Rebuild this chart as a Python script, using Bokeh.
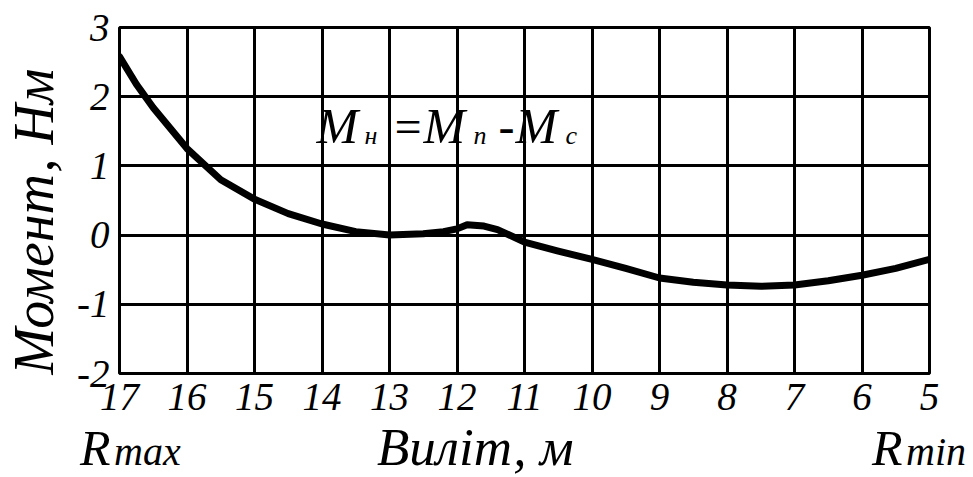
import math
from bokeh.plotting import figure
from bokeh.layouts import column
from bokeh.models import Range1d, FixedTicker, Label, Div
from bokeh.embed import file_html
from bokeh.resources import INLINE

# Data
reach_m = [17, 16.75, 16.5, 16, 15.5, 15, 14.5, 14, 13.5, 13, 12.5, 12.2, 12.0,
           11.85, 11.6, 11.4, 11, 10.5, 10, 9.5, 9, 8.5, 8, 7.5, 7, 6.5, 6, 5.5, 5]
moment_nm = [2.58, 2.18, 1.84, 1.25, 0.8, 0.52, 0.31, 0.16, 0.05, 0.0, 0.02, 0.05, 0.09,
             0.15, 0.13, 0.08, -0.1, -0.23, -0.35, -0.48, -0.62, -0.68, -0.72, -0.74,
             -0.72, -0.66, -0.58, -0.48, -0.35]
x_ticks = [17, 16, 15, 14, 13, 12, 11, 10, 9, 8, 7, 6, 5]
y_ticks = [-2, -1, 0, 1, 2, 3]
y_tick_text = {-2: "-2", -1: "-1", 0: "0", 1: "1", 2: "2", 3: "3"}

FONT = "Liberation Serif"
W, H1, H2 = 957, 423, 54

p = figure(width=W, height=H1, output_backend="svg", toolbar_location=None,
           x_range=Range1d(17, 5), y_range=Range1d(-2, 3),
           min_border_left=117, min_border_right=W - 929, min_border_top=27,
           min_border_bottom=H1 - 373)
p.background_fill_color = "white"
p.border_fill_color = "white"
p.outline_line_color = "black"
p.outline_line_width = 3

for ax, ticks in ((p.xaxis, x_ticks), (p.yaxis, y_ticks)):
    ax.ticker = FixedTicker(ticks=ticks)
    ax.axis_line_color = None
    ax.major_tick_line_color = None
    ax.minor_tick_line_color = None
    ax.major_tick_out = 0
    ax.major_label_text_font = FONT
    ax.major_label_text_font_style = "italic"
    ax.major_label_text_font_size = "39px"
    ax.major_label_text_color = "black"
p.yaxis.major_label_overrides = y_tick_text
p.xaxis.major_label_standoff = 10
p.yaxis.major_label_standoff = 10

# rotated y title via the axis label (non-breaking spaces shift it downward)
p.yaxis.axis_label = "Момент, Нм" + "\u00a0" * 3
p.yaxis.axis_label_text_font = FONT
p.yaxis.axis_label_text_font_style = "italic"
p.yaxis.axis_label_text_font_size = "56px"
p.yaxis.axis_label_text_color = "black"
p.yaxis.axis_label_standoff = 9

for g in (p.xgrid, p.ygrid):
    g.grid_line_color = "black"
    g.grid_line_width = 3
    g.grid_line_alpha = 1.0

p.line(reach_m, moment_nm, line_color="black", line_width=7, line_join="round",
       line_cap="round")

def lab(fig, text, x, baseline, size):
    fig.add_layout(Label(x=x, y=baseline - 0.39 * size, x_units="canvas", y_units="canvas",
                         text=text, text_font=FONT, text_font_style="italic",
                         text_font_size=f"{size}px", text_color="black",
                         text_baseline="alphabetic", text_align="left"))

# formula  M_н = M_п - M_с
bl = 145
lab(p, "M", 316, bl, 50)
lab(p, "н", 364, bl, 26)
lab(p, "=", 391, bl, 48)
lab(p, "M", 423, bl, 50)
lab(p, "п", 473, bl, 26)
lab(p, "-", 498, bl, 48)
lab(p, "M", 515, bl, 50)
lab(p, "с", 565, bl, 26)

# bottom strip: x title and Rmax / Rmin as HTML text
BASE = 465
def span(text, left, size):
    asc, desc, lh = 0.891, 0.216, 0.8
    base_in_box = 0.5 * (lh * size - (asc + desc) * size) + asc * size
    top = (BASE - H1) - base_in_box
    return (f'<span style="position:absolute;left:{left}px;top:{top:.1f}px;'
            f'font-size:{size}px;line-height:{lh * size:.1f}px;white-space:nowrap;">'
            f'{text}</span>')

html = (f'<div style="position:relative;width:{W}px;height:{H2}px;'
        f'font-family:\'{FONT}\';font-style:italic;color:black;">'
        + span("R", 80, 50) + span("max", 114, 40)
        + span("Виліт, м", 377, 53)
        + span("R", 872, 50) + span("min", 906, 40)
        + '</div>')
b = Div(text=html, width=W, height=H2, margin=(0, 0, 0, 0))

layout = column(p, b, spacing=0)
open("out.html", "w").write(file_html(layout, INLINE))
